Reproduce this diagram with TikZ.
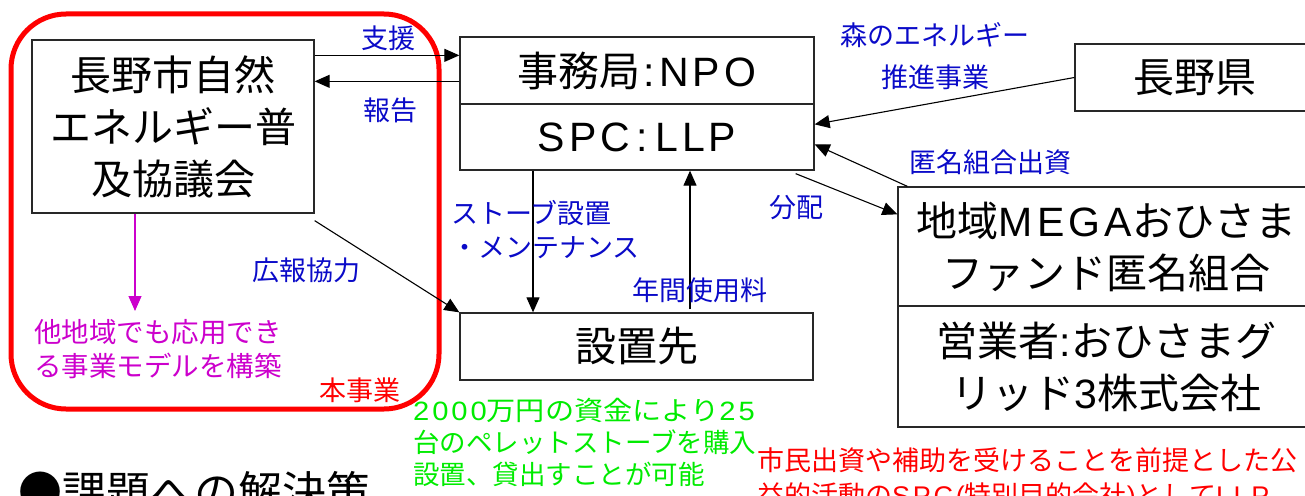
\documentclass[tikz,border=0pt]{standalone}
\usepackage{fontspec}
\usepackage{graphicx}
\setmainfont{Noto Sans CJK JP}
\newfontfamily\lat[LetterSpace=10]{Liberation Sans}
\usetikzlibrary{arrows.meta}
\definecolor{lblue}{RGB}{10,10,200}
\definecolor{lmag}{RGB}{204,0,204}
\definecolor{lred}{RGB}{255,0,0}
\definecolor{lgreen}{RGB}{0,235,0}
\definecolor{boxline}{RGB}{40,40,40}
\tikzset{
  box/.style={draw=boxline,line width=1.3pt,rectangle,inner sep=0pt,align=center,font=\fontsize{41}{52}\selectfont},
  lbl/.style={text=lblue,inner sep=0pt,font=\fontsize{27}{42}\selectfont},
  conn/.style={line width=1.1pt,-{Triangle[length=15pt,width=13pt]}},
}
\begin{document}
\begin{tikzpicture}[x=1pt,y=-1pt]
\useasboundingbox (0,0) rectangle (1305,495);
\clip (0,0) rectangle (1305,495);
% red frame
\draw[lred,line width=5pt,rounded corners=55pt] (11,14) rectangle (439,409);
% boxes
\node[box,minimum width=282pt,minimum height=173pt] (council) at (173,126.5) {長野市自然\\エネルギー普\\及協議会};
\node[box,minimum width=354pt,minimum height=67pt] (npo) at (637,70.5) {事務局{\lat\hspace{3pt}:NPO}};
\node[box,minimum width=354pt,minimum height=66pt] (spc) at (637,137) {{\lat SPC\,:\,LLP}};
\node[box,minimum width=240pt,minimum height=67pt] (ken) at (1195,77.5) {長野県};
\node[box,minimum width=417pt,minimum height=119pt] (mega) at (1106.5,246.5) {地域{\lat MEGA}おひさま\\ファンド匿名組合};
\node[box,minimum width=417pt,minimum height=121pt] (oper) at (1106.5,366.5) {営業者{\lat :}おひさまグ\\リッド{\lat 3}株式会社};
\node[box,minimum width=353pt,minimum height=67pt] (site) at (636.5,346.5) {設置先};
% connector end points
\coordinate (supS) at ([yshift=-16pt]council.north east);
\coordinate (repS) at ([yshift=-45pt]npo.north west);
\coordinate (stoveS) at ([xshift=-104pt]spc.south);
\coordinate (feeE) at ([xshift=53pt]spc.south);
\coordinate (magS) at ([xshift=-38pt]council.south);
\coordinate (magend) at (135,311);
% connectors
\draw[conn] (supS) -- (npo.west |- supS);
\draw[conn] (repS) -- (council.east |- repS);
\draw[conn] ([yshift=-7pt]council.south east) -- (site.north west);
\draw[conn,lmag] (magS) -- (magend);
\draw[conn] (stoveS) -- (stoveS |- site.north);
\draw[conn] ([yshift=3pt]feeE |- site.north) -- (feeE);
\draw[conn] (ken.west) -- ([yshift=-21pt]spc.north east);
\draw[conn] ([xshift=10pt]mega.north west) -- ([yshift=-41pt]spc.north east);
\draw[conn] ([xshift=-19pt,yshift=-3pt]spc.south east) -- ([yshift=-28pt]mega.north west);
% labels
\node[lbl] (l1) at (388,38) {支援};
\node[lbl] (l2) at (390,110) {報告};
\node[lbl,align=center] (l3) at (935,56) {森のエネルギー\\推進事業};
\node[lbl] (l4) at (990,162) {匿名組合出資};
\node[lbl] (l5) at (796,208) {分配};
\node[lbl,align=left,anchor=west,font=\fontsize{27}{34}\selectfont] (l6) at (451,230) {ストーブ設置\\・メンテナンス};
\node[lbl] (l7) at (700,290) {年間使用料};
\node[lbl] (l8) at (306,270) {広報協力};
\node[lbl,text=lmag,align=left,anchor=west,font=\fontsize{27.5}{34}\selectfont] (l9) at (34,349) {他地域でも応用でき\\る事業モデルを構築};
\node[lbl,text=lred] (l10) at (360,390) {本事業};
\node[lbl,text=lgreen,align=left,anchor=west,font=\fontsize{26.5}{32}\selectfont] (l11) at (413,442) {\scalebox{1.1}[1]{{\lat 2000}万円の資金により{\lat 25}}\\台のペレットストーブを購入\\設置、貸出すことが可能};
\node[lbl,text=lred,align=left,anchor=west,font=\fontsize{27}{35}\selectfont] (l12) at (757,479.5) {市民出資や補助を受けることを前提とした公\\益的活動の{\lat SPC(}特別目的会社{\lat )}として{\lat LLP}};
\node[inner sep=0pt,anchor=west,font=\fontsize{44}{50}\selectfont] (l13) at (18,492) {●課題への解決策};
\end{tikzpicture}
\end{document}
